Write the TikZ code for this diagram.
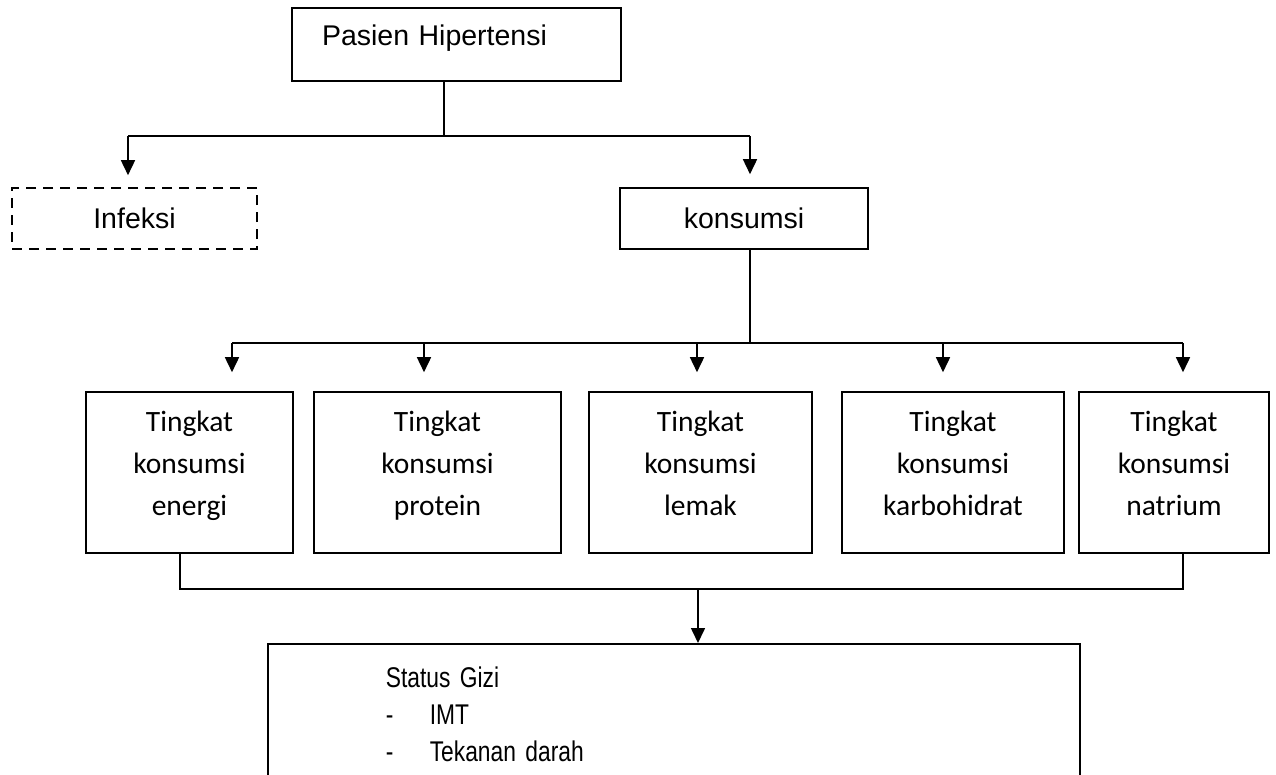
\documentclass[tikz,border=0pt]{standalone}
\usepackage{fontspec}
\setmainfont{Liberation Sans}
\newfontfamily\calibrifont{Carlito}
\newfontfamily\narrowfont[FakeStretch=0.8]{Liberation Sans}
\usetikzlibrary{
  arrows.meta,              % Triangle 箭头
  positioning               % 节点定位
}
\tikzset{
  main box/.style={
    draw,
    line width=1.6pt,
    inner sep=0pt,
    font=\fontsize{28.5}{34}\selectfont
  },
  dash box/.style={
    main box,
    dash pattern=on 10pt off 7pt
  },
  level box/.style={
    draw,
    line width=1.6pt,
    inner sep=0pt,
    align=center,
    minimum height=161pt,
    font=\calibrifont\fontsize{29.5}{42}\selectfont,
    execute at end node={\rule[-18pt]{0pt}{0pt}}
  },
  link/.style={
    line width=1.6pt
  },
  link arrow/.style={
    -{Triangle[length=15pt,width=14pt]},
    line width=1.6pt
  }
}

\begin{document}
\begin{tikzpicture}[x=1pt, y=-1pt]
  % 画布范围
  \useasboundingbox (0,0) rectangle (1276,774);
  \clip (0,0) rectangle (1276,774);

  % ==== 1. 顶部节点 ====
  \node[main box, minimum width=329pt, minimum height=73pt,
        text width=269pt, inner xsep=30pt, align=left,
        text height=37pt, text depth=36pt] (pasien) at (456.5,44.5) {Pasien Hipertensi};
  \node[dash box, minimum width=245pt, minimum height=61pt] (infeksi) at (134.5,218.5) {Infeksi};
  \node[main box, minimum width=248pt, minimum height=61pt] (konsumsi) at (744,218.5) {konsumsi};

  % ==== 2. 五个消费水平 ====
  \node[level box, minimum width=207pt] (energi)  at (189.5,472.5) {Tingkat\\konsumsi\\energi};
  \node[level box, minimum width=247pt] (protein) at (437.5,472.5) {Tingkat\\konsumsi\\protein};
  \node[level box, minimum width=223pt] (lemak)   at (700.5,472.5) {Tingkat\\konsumsi\\lemak};
  \node[level box, minimum width=222pt] (karbo)   at (953,472.5)   {Tingkat\\konsumsi\\karbohidrat};
  \node[level box, minimum width=190pt] (natrium) at (1174,472.5)  {Tingkat\\konsumsi\\natrium};

  % ==== 3. 营养状况 ====
  \node[draw, line width=1.6pt, anchor=north west, inner xsep=118pt, inner ysep=23pt,
        text width=576pt, align=left, text depth=80pt,
        font=\narrowfont\fontsize{28.5}{37}\selectfont] (status) at (267,643)
        {Status Gizi\\\makebox[44pt][l]{-}IMT\\\makebox[44pt][l]{-}Tekanan darah};

  % ==== 4. 连线 ====
  % 顶部分叉
  \coordinate (top split) at (444,136);
  \coordinate (top left)  at (128,136);
  \coordinate (top right) at (750,136);
  \draw[link] (pasien.south -| top split) -- (top split);
  \draw[link] (top left) -- (top right);
  \draw[link arrow, shorten >=12pt] (top left) -- (top left |- infeksi.north);
  \draw[link arrow, shorten >=13pt] (top right) -- (top right |- konsumsi.north);

  % 中部分叉
  \coordinate (mid split) at (750,343);
  \coordinate (mid left)  at (232,343);
  \coordinate (mid right) at (1183,343);
  \draw[link] (konsumsi.south -| mid split) -- (mid split);
  \draw[link] (mid left) -- (mid right);
  \foreach \x/\n in {232/energi, 424/protein, 697/lemak, 943/karbo, 1183/natrium} {
    \coordinate (in \n) at (\x,343);
    \draw[link arrow, shorten >=19pt] (in \n) -- (in \n |- \n.north);
  }

  % 底部汇合
  \coordinate (bot split) at (698,589);
  \draw[link] ([xshift=-9.5pt]energi.south) |- (bot split) -| ([xshift=9pt]natrium.south);
  \draw[link arrow] (bot split) -- (bot split |- status.north);
\end{tikzpicture}
\end{document}
